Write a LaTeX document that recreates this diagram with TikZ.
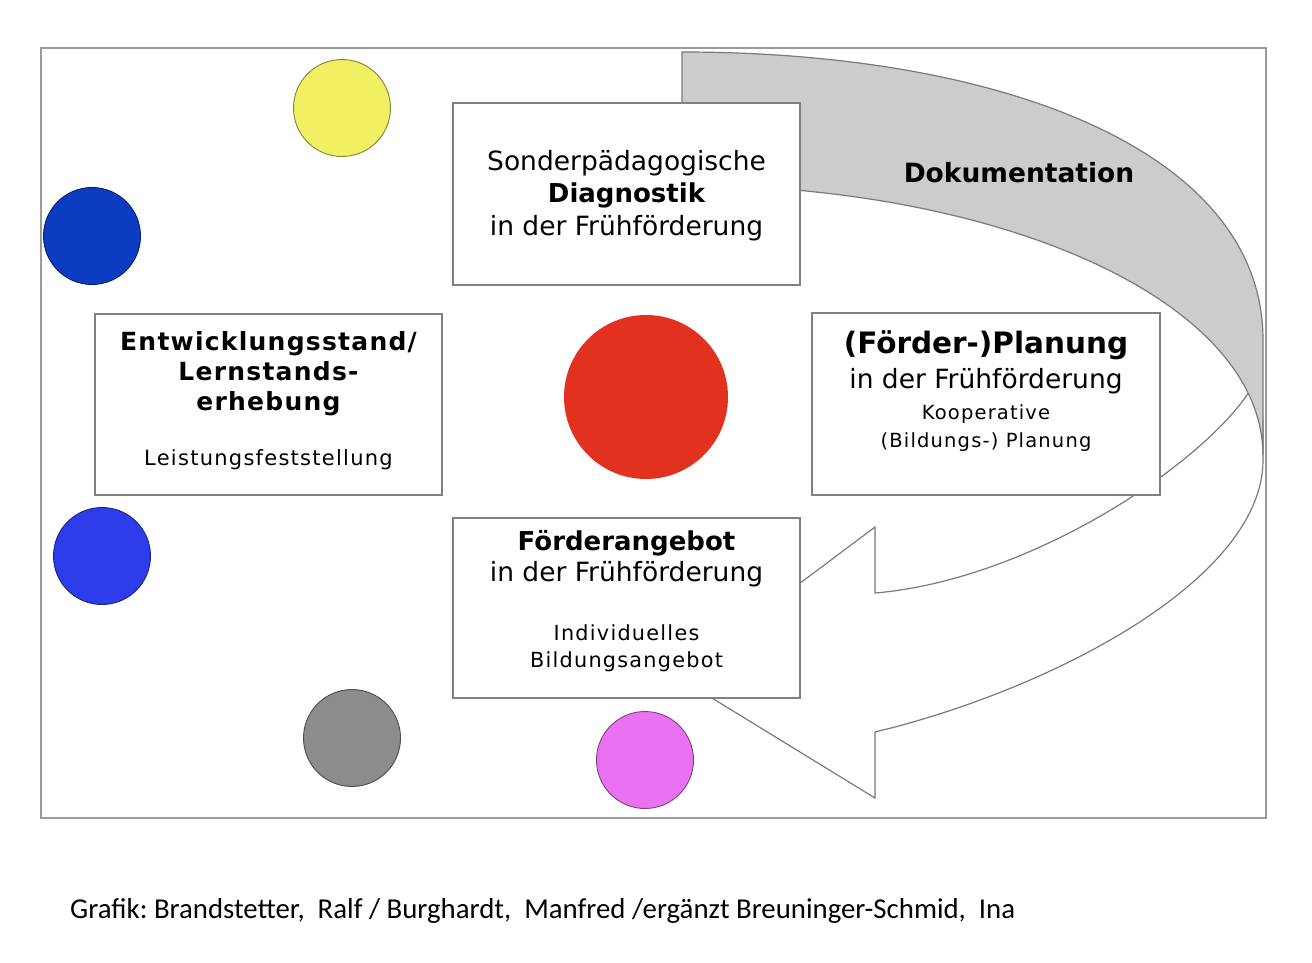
\documentclass[tikz,border=0pt]{standalone}
\usepackage{fontspec}
\setmainfont{DejaVu Sans}
\newfontfamily\capfont{Carlito}
\newfontfamily\trackfont[LetterSpace=6]{DejaVu Sans}
\newfontfamily\trackbold[LetterSpace=5]{DejaVu Sans Bold}
\definecolor{framegray}{HTML}{9A9A9A}
\definecolor{boxgray}{HTML}{808080}
\definecolor{bandgray}{HTML}{CCCCCC}
\definecolor{arrowgray}{HTML}{7A7A7A}
\definecolor{cyellow}{HTML}{F0F062}
\definecolor{cdarkblue}{HTML}{0B3CC1}
\definecolor{cblue}{HTML}{2D3DEB}
\definecolor{cgray}{HTML}{8C8C8C}
\definecolor{cpink}{HTML}{E872F2}
\definecolor{cred}{HTML}{E33120}
\begin{document}
\begin{tikzpicture}[x=1pt,y=-1pt,
  box/.style={draw=boxgray, line width=1.6pt, fill=white, inner sep=0pt},
  dot/.style={circle, draw=#1!55!black, line width=0.9pt, fill=#1, inner sep=0pt, minimum size=97pt},
  txt/.style={anchor=base, inner sep=0pt, align=center},
  reg/.style={txt, font=\fontsize{26.5}{30}\selectfont},
  ttl/.style={txt, font=\fontsize{26}{30}\selectfont\bfseries},
  small/.style={txt, font=\fontsize{19.5}{22}\trackfont},
  arrowline/.style={draw=arrowgray, line width=1.2pt, line join=miter}
]
\fill[white] (0,0) rectangle (1312,962);
\useasboundingbox (0,0) rectangle (1312,962);
\node[draw=framegray, line width=1.5pt, minimum width=1225pt, minimum height=770pt, inner sep=0pt] (frame) at (653.5,433) {};

% front (white) band with arrow head
\path[arrowline, fill=white] (1251,389) .. controls (1204,464) and (1030,580) .. (875,593)
  -- (875,527) -- (676,676) -- (875,798) -- (875,732)
  .. controls (1050,690) and (1263,580) .. (1263,460) -- (1263,420) -- cycle;
% back (grey) band
\path[arrowline, fill=bandgray] (682,52) .. controls (1000,52) and (1263,150) .. (1263,340)
  -- (1263,455) .. controls (1262,300) and (1000,185) .. (682,185) -- cycle;
\node[txt, font=\fontsize{26.5}{30}\selectfont\bfseries] (doku) at (1019,182) {Dokumentation};

% boxes
\node[box, minimum width=347pt, minimum height=182pt] (diag) at (626.5,194) {};
\node[box, minimum width=347pt, minimum height=181pt] (entw) at (268.5,404.5) {};
\node[box, minimum width=348pt, minimum height=182pt] (plan) at (986,404) {};
\node[box, minimum width=347pt, minimum height=180pt] (foerd) at (626.5,608) {};

% box texts
\node[reg] (d1) at (626.5,170) {Sonderpädagogische};
\node[ttl] (d2) at (626.5,202) {Diagnostik};
\node[reg] (d3) at (626.5,235) {in der Frühförderung};

\node[txt, font=\fontsize{25}{30}\trackbold] (e1) at (268.5,350) {Entwicklungsstand/};
\node[txt, font=\fontsize{25}{30}\trackbold] (e2) at (268.5,380) {Lernstands-};
\node[txt, font=\fontsize{25}{30}\trackbold] (e3) at (268.5,410) {erhebung};
\node[txt, font=\fontsize{21}{22}\trackfont] (e4) at (268.5,465) {Leistungsfeststellung};

\node[txt, font=\fontsize{29.5}{32}\selectfont\bfseries] (p1) at (986,353) {(Förder-)Planung};
\node[reg] (p2) at (986,388) {in der Frühförderung};
\node[small] (p3) at (986,419) {Kooperative};
\node[small] (p4) at (986,447) {(Bildungs-) Planung};

\node[ttl] (f1) at (626.5,550) {Förderangebot};
\node[reg] (f2) at (626.5,581) {in der Frühförderung};
\node[txt, font=\fontsize{20.8}{22}\trackfont] (f3) at (626.5,640) {Individuelles};
\node[txt, font=\fontsize{20.8}{22}\trackfont] (f4) at (626.5,667) {Bildungsangebot};

% circles
\node[dot=cyellow] (yellow) at (342,108) {};
\node[dot=cdarkblue] (darkblue) at (92,236) {};
\node[dot=cblue] (blue) at (102,556) {};
\node[dot=cgray] (grey) at (352,738) {};
\node[dot=cpink] (pink) at (645,760) {};
\node[circle, fill=cred, inner sep=0pt, minimum size=164pt] (red) at (646,397) {};

% caption
\node[anchor=base west, inner sep=0pt, font=\fontsize{28.8}{32}\capfont\frenchspacing] (cap) at (70,918)
  {Grafik: Brandstetter,\ \ Ralf / Burghardt,\ \ Manfred /ergänzt Breuninger-Schmid,\ \ Ina};
\end{tikzpicture}
\end{document}
